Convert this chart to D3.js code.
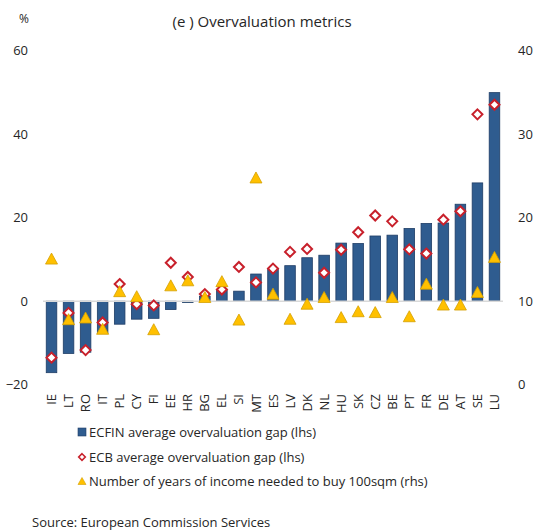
<!DOCTYPE html>
<html>
<head>
<meta charset="utf-8">
<script src="https://cdn.jsdelivr.net/npm/d3@7"></script>
<style>
  body { margin: 0; background: #fff; }
  text { font-family: "Open Sans", "Noto Sans", sans-serif; fill: #262626; }
</style>
</head>
<body>
<div id="chart"></div>
<script>
var countries = ["IE","LT","RO","IT","PL","CY","FI","EE","HR","BG","EL","SI","MT","ES","LV","DK","NL","HU","SK","CZ","BE","PT","FR","DE","AT","SE","LU"];
var ecfinGap = [-17.1,-12.5,-12.2,-7.7,-5.5,-4.3,-4.1,-2.0,-0.3,1.2,2.6,2.4,6.5,7.6,8.5,10.4,11.0,13.9,13.8,15.6,15.8,17.4,18.6,18.7,23.2,28.3,49.9];
var ecbGap = [-13.5,-2.8,-11.7,-5.1,4.1,-0.7,-1.0,9.2,5.8,1.7,2.8,8.2,4.5,7.8,11.8,12.5,6.8,12.3,16.5,20.5,19.1,12.4,11.4,19.5,21.5,44.7,47.0];
var yearsIncome = [15.1,7.85,8.05,6.7,11.2,10.6,6.65,11.9,12.5,10.5,12.4,7.8,24.8,10.9,7.9,9.7,10.5,8.1,8.8,8.7,10.5,8.2,12.1,9.6,9.6,11.1,15.3];
var leftTicks = [-20, 0, 20, 40, 60];
var rightTicks = [0, 10, 20, 30, 40];
var legendLabels = ["ECFIN average overvaluation gap (lhs)", "ECB average overvaluation gap (lhs)", "Number of years of income needed to buy 100sqm (rhs)"];

var width = 534, height = 532;
var plot = {left: 43, right: 503, top: 50.4, bottom: 384.8};

var svg = d3.select("#chart").append("svg")
    .attr("width", width)
    .attr("height", height);

var x = d3.scaleBand()
    .domain(countries)
    .range([plot.left, plot.right])
    .paddingInner(0.38)
    .paddingOuter(0.19);

var yLeft = d3.scaleLinear().domain([-20, 60]).range([plot.bottom, plot.top]);
var yRight = d3.scaleLinear().domain([0, 40]).range([plot.bottom, plot.top]);

// title and unit
svg.append("text")
    .attr("x", 262).attr("y", 27)
    .attr("text-anchor", "middle")
    .style("font-size", "15px")
    .text("(e ) Overvaluation metrics");

svg.append("text")
    .attr("x", 24).attr("y", 23)
    .attr("text-anchor", "middle")
    .style("font-size", "12px")
    .text("%");

// axes (labels only)
var leftAxis = svg.append("g")
    .attr("transform", "translate(" + plot.left + ",0)")
    .call(d3.axisLeft(yLeft).tickValues(leftTicks).tickSize(0).tickPadding(15));
leftAxis.select(".domain").remove();
leftAxis.selectAll("text").style("font-size", "13px").attr("fill", "#262626");

var rightAxis = svg.append("g")
    .attr("transform", "translate(" + plot.right + ",0)")
    .call(d3.axisRight(yRight).tickValues(rightTicks).tickSize(0).tickPadding(15));
rightAxis.select(".domain").remove();
rightAxis.selectAll("text").style("font-size", "13px").attr("fill", "#262626");

// bars
svg.selectAll(".bar")
    .data(countries)
    .enter()
    .append("rect")
        .attr("class", "bar")
        .attr("x", function(d) { return x(d); })
        .attr("width", x.bandwidth())
        .attr("y", function(d, i) { return yLeft(Math.max(0, ecfinGap[i])); })
        .attr("height", function(d, i) { return Math.abs(yLeft(ecfinGap[i]) - yLeft(0)); })
        .attr("fill", "#2F5C8F")
        .attr("stroke", "#1F3D66")
        .attr("stroke-width", 0.8);

// zero line
svg.append("line")
    .attr("x1", plot.left).attr("x2", plot.right)
    .attr("y1", yLeft(0)).attr("y2", yLeft(0))
    .attr("stroke", "#D9D9D9")
    .attr("stroke-width", 1.5);

function trianglePath(cx, cy, w, h) {
    return "M" + cx + "," + (cy - h / 2) +
        "L" + (cx + w / 2) + "," + (cy + h / 2) +
        "L" + (cx - w / 2) + "," + (cy + h / 2) + "Z";
}
function diamondPath(cx, cy, r) {
    return "M" + cx + "," + (cy - r) + "L" + (cx + r) + "," + cy +
        "L" + cx + "," + (cy + r) + "L" + (cx - r) + "," + cy + "Z";
}

// diamonds (lhs)
svg.selectAll(".dia")
    .data(countries)
    .enter()
    .append("path")
        .attr("class", "dia")
        .attr("d", function(d, i) {
            return diamondPath(x(d) + x.bandwidth() / 2, yLeft(ecbGap[i]), 5);
        })
        .attr("fill", "#FFFFFF")
        .attr("stroke", "#C8202B")
        .attr("stroke-width", 2);

// triangles (rhs), drawn on top
svg.selectAll(".tri")
    .data(countries)
    .enter()
    .append("path")
        .attr("class", "tri")
        .attr("d", function(d, i) {
            return trianglePath(x(d) + x.bandwidth() / 2, yRight(yearsIncome[i]), 12, 11);
        })
        .attr("fill", "#FFC000")
        .attr("stroke", "#D4A000")
        .attr("stroke-width", 0.8);

// category labels
svg.selectAll(".xlab")
    .data(countries)
    .enter()
    .append("text")
        .attr("class", "xlab")
        .attr("transform", function(d) {
            return "translate(" + (x(d) + x.bandwidth() / 2) + ",394) rotate(-90)";
        })
        .attr("text-anchor", "end")
        .attr("dy", "0.35em")
        .style("font-size", "13px")
        .text(function(d) { return d; });

// legend
var legendY = [432, 457, 481];
var legend = svg.append("g");
legend.append("rect")
    .attr("x", 78).attr("y", legendY[0] - 4)
    .attr("width", 8).attr("height", 8)
    .attr("fill", "#2F5C8F").attr("stroke", "#1F3D66").attr("stroke-width", 0.6);
legend.append("path")
    .attr("d", diamondPath(82, legendY[1], 3.3))
    .attr("fill", "#fff").attr("stroke", "#C8202B").attr("stroke-width", 1.6);
legend.append("path")
    .attr("d", trianglePath(82, legendY[2], 8, 7))
    .attr("fill", "#FFC000").attr("stroke", "#D4A000").attr("stroke-width", 0.6);
legend.selectAll(".legtext")
    .data(legendLabels)
    .enter()
    .append("text")
        .attr("class", "legtext")
        .attr("x", 89)
        .attr("y", function(d, i) { return legendY[i]; })
        .attr("dy", "0.35em")
        .style("font-size", "13px")
        .text(function(d) { return d; });

svg.append("text")
    .attr("x", 32).attr("y", 522)
    .attr("dy", "0.35em")
    .style("font-size", "13px")
    .text("Source: European Commission Services");
</script>
</body>
</html>
